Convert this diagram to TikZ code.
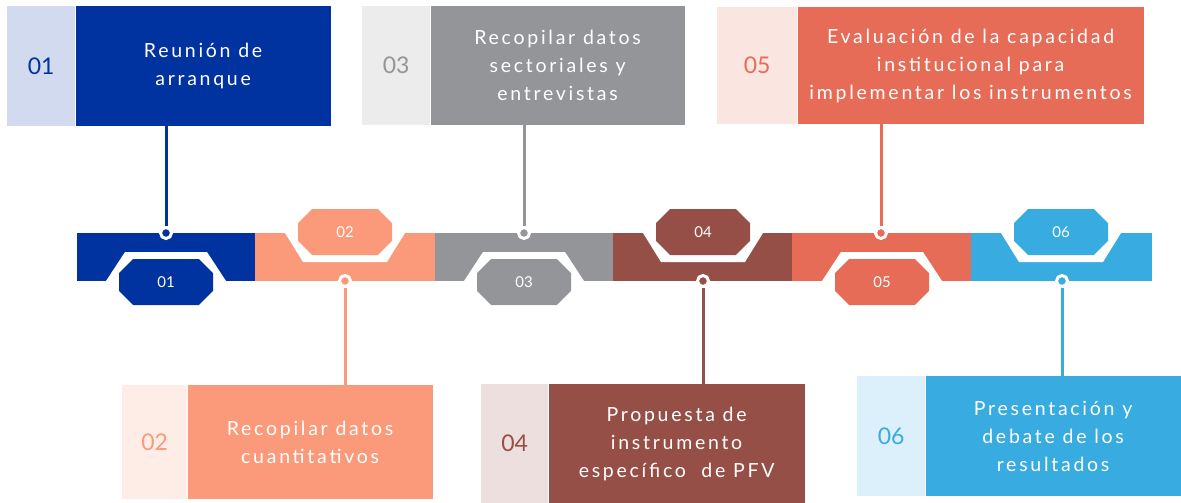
\documentclass[tikz,border=0pt]{standalone}
\usepackage{fontspec}
\setmainfont{Lato}
\newfontfamily\stagefont[LetterSpace=14]{Lato}
\usetikzlibrary{positioning,shapes.misc}

\definecolor{navy}{HTML}{0033A0}
\definecolor{salmon}{HTML}{FB9A7A}
\definecolor{stone}{HTML}{939598}
\definecolor{brick}{HTML}{964F46}
\definecolor{coral}{HTML}{E66C57}
\definecolor{sky}{HTML}{38ABE1}

\begin{document}
\begin{tikzpicture}[x=1pt,y=-1pt,
  tab/.style={fill=#1!18,text=#1,inner sep=0pt,anchor=north west,
    font=\fontsize{23}{23}\selectfont},
  stage/.style={fill=#1,text=white,inner sep=0pt,align=center,
    font=\stagefont\fontsize{19.5}{28}\selectfont},
  octa/.style={chamfered rectangle,chamfered rectangle xsep=11pt,
    chamfered rectangle ysep=11pt,fill=#1,text=white,inner sep=0pt,
    minimum width=94pt,minimum height=46pt,font=\fontsize{15}{15}\selectfont},
  dot/.style={circle,fill=#1,draw=white,line width=3pt,inner sep=0pt,
    minimum size=11pt},
  link/.style={draw=#1,line width=3pt}]

  \useasboundingbox (0,0) rectangle (1181,503);

  % timeline bar
  \fill[navy]   (77,233)  rectangle (255,281);
  \fill[salmon] (255,233) rectangle (435,281);
  \fill[stone]  (435,233) rectangle (613,281);
  \fill[brick]  (613,233) rectangle (792,281);
  \fill[coral]  (792,233) rectangle (971,281);
  \fill[sky]    (971,233) rectangle (1152,281);

  % notches
  \fill[white] (106,281) -- (125,252) -- (207,252) -- (226,281) -- cycle;
  \fill[white] (285,233) -- (303,262) -- (387,262) -- (405,233) -- cycle;
  \fill[white] (464,281) -- (483,252) -- (565,252) -- (584,281) -- cycle;
  \fill[white] (643,233) -- (661,262) -- (745,262) -- (763,233) -- cycle;
  \fill[white] (822,281) -- (841,252) -- (923,252) -- (942,281) -- cycle;
  \fill[white] (1001,233) -- (1019,262) -- (1103,262) -- (1121,233) -- cycle;

  \node[octa=navy]   (oct01) at (166,282)  {01};
  \node[octa=salmon] (oct02) at (345,232)  {02};
  \node[octa=stone]  (oct03) at (524,282)  {03};
  \node[octa=brick]  (oct04) at (703,232)  {04};
  \node[octa=coral]  (oct05) at (882,282)  {05};
  \node[octa=sky]    (oct06) at (1061,232) {06};

  % stage boxes
  \node[tab=navy,minimum width=68pt,minimum height=120pt] (tab01) at (7,6) {01};
  \node[stage=navy,minimum width=255pt,minimum height=120pt] (box01)
    [right=0pt of tab01] {Reunión de\\arranque};
  \node[tab=stone,minimum width=68pt,minimum height=119pt] (tab03) at (362,6) {03};
  \node[stage=stone,minimum width=254pt,minimum height=119pt] (box03)
    [right=0pt of tab03] {Recopilar datos\\sectoriales y\\entrevistas};
  \node[tab=coral,minimum width=80pt,minimum height=117pt] (tab05) at (717,7) {05};
  \node[stage=coral,minimum width=346pt,minimum height=117pt] (box05)
    [right=0pt of tab05] {Evaluación de la capacidad\\institucional para\\implementar los instrumentos};

  \node[tab=salmon,minimum width=65pt,minimum height=114pt] (tab02) at (122,385) {02};
  \node[stage=salmon,minimum width=245pt,minimum height=114pt] (box02)
    [right=0pt of tab02] {Recopilar datos\\cuantitativos};
  \node[tab=brick,minimum width=67pt,minimum height=119pt] (tab04) at (481,384) {04};
  \node[stage=brick,minimum width=256pt,minimum height=119pt] (box04)
    [right=0pt of tab04] {Propuesta de\\instrumento\\específico\ \ de PFV};
  \node[tab=sky,minimum width=68pt,minimum height=120pt] (tab06) at (857,376) {06};
  \node[stage=sky,minimum width=255pt,minimum height=120pt] (box06)
    [right=0pt of tab06] {Presentación y\\debate de los\\resultados};

  % markers
  \node[dot=navy]   (dot01) at (166,233)  {};
  \node[dot=salmon] (dot02) at (345,281)  {};
  \node[dot=stone]  (dot03) at (524,233)  {};
  \node[dot=brick]  (dot04) at (703,281)  {};
  \node[dot=coral]  (dot05) at (881,233)  {};
  \node[dot=sky]    (dot06) at (1062,281) {};

  \draw[link=navy]   (box01.south -| dot01) -- (dot01.north);
  \draw[link=salmon] (dot02.south) -- (dot02 |- box02.north);
  \draw[link=stone]  (box03.south -| dot03) -- (dot03.north);
  \draw[link=brick]  (dot04.south) -- (dot04 |- box04.north);
  \draw[link=coral]  (box05.south -| dot05) -- (dot05.north);
  \draw[link=sky]    (dot06.south) -- (dot06 |- box06.north);
\end{tikzpicture}
\end{document}
